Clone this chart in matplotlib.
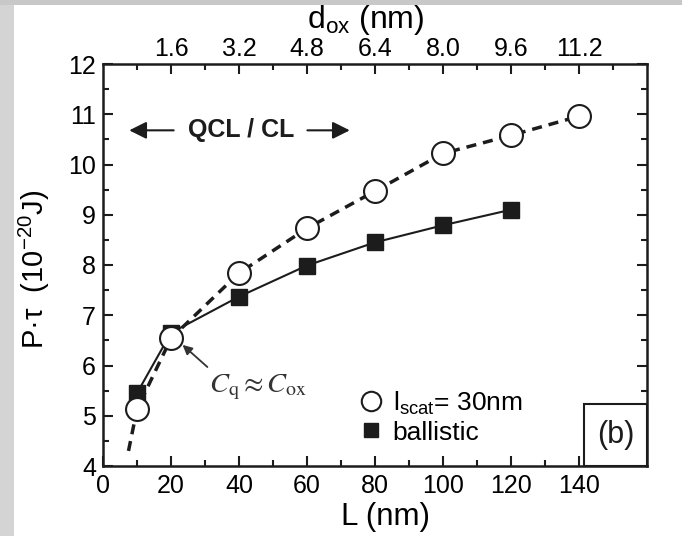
import matplotlib
matplotlib.use("Agg")
import matplotlib.pyplot as plt
from matplotlib.lines import Line2D
from matplotlib.patches import Rectangle

plt.rcParams["font.family"] = ["Liberation Sans", "DejaVu Sans"]
plt.rcParams["mathtext.fontset"] = "custom"
plt.rcParams["mathtext.rm"] = "Liberation Sans"
plt.rcParams["mathtext.it"] = "Liberation Sans:italic"
plt.rcParams["mathtext.bf"] = "Liberation Sans:bold"

# channel length L (nm) and P*tau (1e-20 J)
L_scat = [10, 20, 40, 60, 80, 100, 120, 140]
pt_scat = [5.13, 6.54, 7.84, 8.73, 9.47, 10.22, 10.58, 10.96]
L_ball = [10, 20, 40, 60, 80, 100, 120]
pt_ball = [5.45, 6.65, 7.37, 7.99, 8.45, 8.79, 9.10]
# fitted trend for the scattering case (dashed)
L_fit = [7.5, 10, 20, 40, 60, 80, 100, 120, 140]
pt_fit = [4.3, 5.13, 6.54, 7.84, 8.73, 9.47, 10.22, 10.58, 10.96]

L_ticks = [0, 20, 40, 60, 80, 100, 120, 140]
top_ticks = [20, 40, 60, 80, 100, 120, 140]
dox_labels = ["1.6", "3.2", "4.8", "6.4", "8.0", "9.6", "11.2"]

INK = "#1c1c1c"

fig = plt.figure(figsize=(6.82, 5.36), dpi=100)
fig.patch.set_facecolor("white")
# grey frame strips around the panel
fig.patches.append(Rectangle((0, 0), 14 / 682, 1, transform=fig.transFigure,
                             facecolor="#d4d4d4", edgecolor="none", zorder=-5))
fig.patches.append(Rectangle((0, 1 - 5 / 536), 1, 5 / 536, transform=fig.transFigure,
                             facecolor="#c8c8c8", edgecolor="none", zorder=-5))

ax = fig.add_axes([103 / 682, 1 - 466 / 536, 544 / 682, 402 / 536])
ax.set_xlim(0, 160)
ax.set_ylim(4, 12)

ax.plot(L_fit, pt_fit, color=INK, lw=2.5, ls=(0, (2.9, 2.0)), dash_capstyle="butt", zorder=2)
ax.plot(L_ball, pt_ball, color=INK, lw=1.5, marker="s", ms=12, mfc=INK, mec=INK, zorder=3)
ax.plot(L_scat, pt_scat, ls="none", marker="o", ms=16.5, mfc="white", mec=INK, mew=1.5, zorder=4)

for side in ["left", "right", "top", "bottom"]:
    ax.spines[side].set_linewidth(1.8)
    ax.spines[side].set_color(INK)

ax.set_xticks(L_ticks)
ax.set_xticks(range(10, 160, 20), minor=True)
ax.set_yticks(range(4, 13))
ax.set_yticks([4.5 + i for i in range(8)], minor=True)
ax.tick_params(which="both", direction="in", right=True, top=False, color=INK, width=1.5)
ax.tick_params(which="major", length=7, labelsize=18, pad=5)
ax.tick_params(which="minor", length=4.5)
ax.tick_params(axis="x", which="major", pad=6)

ax.set_xlabel("L (nm)", fontsize=22.5)
ax.xaxis.set_label_coords(0.52, -0.09)
ax.set_ylabel("P\u00b7\u03c4  (10$^{-20}$J)", fontsize=21)
ax.yaxis.set_label_coords(-0.094, 0.49)

# oxide thickness axis on top
top = ax.twiny()
top.set_xlim(ax.get_xlim())
top.set_xticks(top_ticks)
top.set_xticklabels(dox_labels)
top.set_xticks(range(10, 160, 20), minor=True)
top.tick_params(which="both", direction="in", color=INK, width=1.5)
top.tick_params(which="major", length=7, labelsize=18, pad=2)
top.tick_params(which="minor", length=4.5)
top.set_xlabel("d$_{\\rm ox}$ (nm)", fontsize=23)
top.xaxis.set_label_coords(0.482, 1.09)
for side in top.spines.values():
    side.set_visible(False)

# regime arrows
ax.annotate("", xy=(6.9, 10.68), xytext=(21.6, 10.68),
            arrowprops=dict(arrowstyle="-|>", color=INK, lw=1.5, mutation_scale=26))
ax.annotate("", xy=(73.4, 10.68), xytext=(59.3, 10.68),
            arrowprops=dict(arrowstyle="-|>", color=INK, lw=1.5, mutation_scale=26))
ax.text(40.5, 10.68, "QCL / CL", fontsize=18, fontweight="bold", ha="center", va="center", color=INK)

# quantum capacitance matches oxide capacitance near L = 20 nm
ax.annotate("", xy=(23.4, 6.41), xytext=(30.7, 5.97),
            arrowprops=dict(arrowstyle="-|>", color="#333333", lw=1.3, mutation_scale=14,
                            shrinkA=0, shrinkB=0))
ax.text(31.3, 5.47, r"$C_{\mathrm{q}}\approx C_{\mathrm{ox}}$", fontsize=20.5, color="#333333",
        math_fontfamily="stix", ha="left", va="baseline")

handles = [
    Line2D([], [], ls="none", marker="o", ms=14, mfc="white", mec=INK, mew=1.5),
    Line2D([], [], ls="none", marker="s", ms=10, mfc=INK, mec=INK),
]
ax.legend(handles, ["l$_{\\rm scat}$= 30nm", "ballistic"], loc="lower left",
          bbox_to_anchor=(0.462, 0.04), frameon=False, fontsize=19, handlelength=0.9,
          handletextpad=0.35, labelspacing=0.15, borderpad=0.2, borderaxespad=0)

# panel tag box in the corner
ax.add_patch(Rectangle((141.6, 4), 18.4, 1.23, facecolor="white", edgecolor=INK,
                       lw=1.5, zorder=5, clip_on=False))
ax.text(150.8, 4.62, "(b)", fontsize=22, ha="center", va="center", color=INK, zorder=6)

fig.savefig("out.png", dpi=100)
